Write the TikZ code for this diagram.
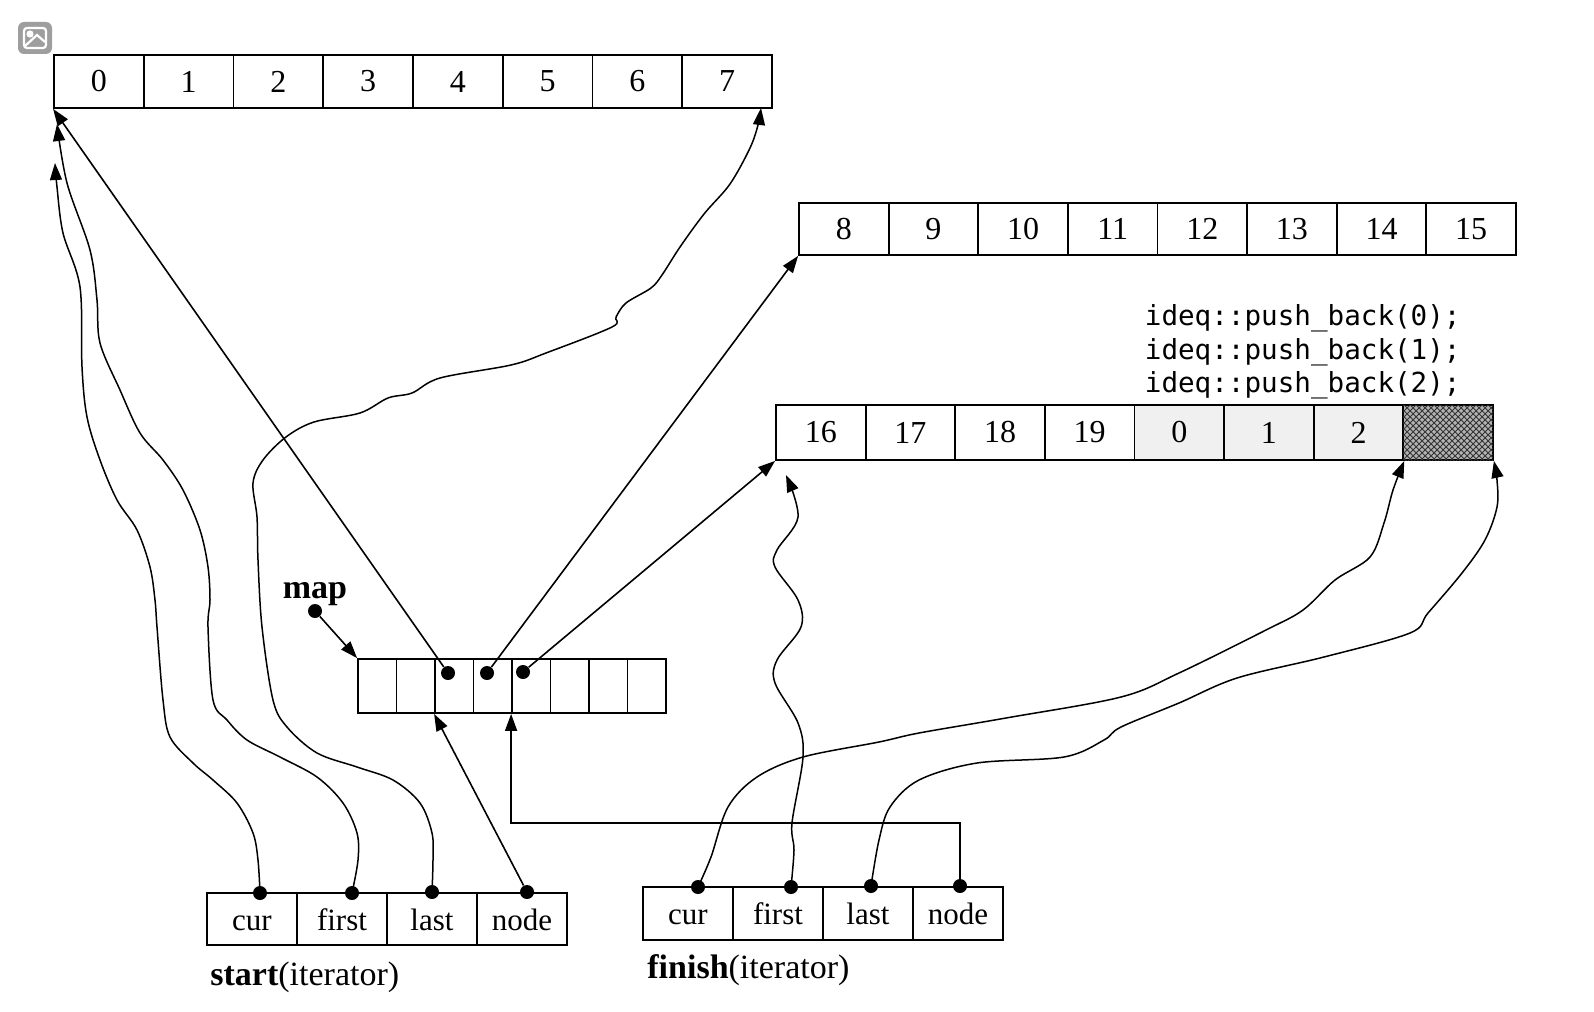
\documentclass[tikz,border=0pt]{standalone}
\usepackage{fontspec}
\setmainfont{Liberation Serif}
\newfontfamily\codefont{DejaVu Sans Mono}
\usetikzlibrary{arrows.meta,patterns,backgrounds}
\tikzset{
  cellbox/.style={draw=black, line width=0.9pt, inner sep=0pt},
  cellA/.style={cellbox, minimum width=44.875pt, minimum height=26.5pt, font=\fontsize{16}{16}\selectfont},
  cellB/.style={cellbox, minimum width=44.8125pt, minimum height=26pt, font=\fontsize{16}{16}\selectfont},
  cellC/.style={cellbox, minimum width=44.8125pt, minimum height=27.5pt, font=\fontsize{16}{16}\selectfont},
  cellM/.style={cellbox, minimum width=19.25pt, minimum height=27pt},
  itcell/.style={cellbox, minimum width=45pt, minimum height=26pt, text height=12pt, text depth=1pt, font=\fontsize{15.5}{15.5}\selectfont},
  dot/.style={circle, fill=black, inner sep=0pt, minimum size=7pt},
  conn/.style={line width=0.8pt, -{Triangle[length=8.5pt,width=6pt]}},
  wavy/.style={line width=0.75pt, -{Triangle[length=8.5pt,width=6pt]}},
  speck/.style={fill=black!6},
  hatch/.style={fill=black!30, postaction={pattern=crosshatch, pattern color=black!80}},
  lbl/.style={inner sep=0pt, font=\fontsize{17}{17}\selectfont},
  code/.style={inner sep=0pt, anchor=base east, font=\codefont\fontsize{13.8}{13.8}\selectfont},
}
\begin{document}
\begin{tikzpicture}[x=0.5pt,y=-0.5pt]
\useasboundingbox (0,0) rectangle (1594,1011);
% image icon
\fill[black!38, rounded corners=3pt] (18,22) rectangle (52,54);
\draw[white, line width=1.1pt, rounded corners=1.5pt] (24,28) rectangle (46,48);
\fill[white] (30,34) circle (1.8pt);
\draw[white, line width=1.1pt] (25,46) -- (37,35) -- (45,42);

% top buffer
\foreach \i in {0,...,7}{
  \node[cellA] (A\i) at ({54+89.75*(\i+0.5)},81.5) {\i};
}
% second buffer
\foreach \i/\t in {0/8,1/9,2/10,3/11,4/12,5/13,6/14,7/15}{
  \node[cellB] (B\i) at ({799+89.625*(\i+0.5)},229) {\t};
}
% third buffer
\foreach \i/\t in {0/16,1/17,2/18,3/19}{
  \node[cellC] (C\i) at ({776+89.625*(\i+0.5)},432.5) {\t};
}
\foreach \i/\t in {4/0,5/1,6/2}{
  \node[cellC, speck] (C\i) at ({776+89.625*(\i+0.5)},432.5) {\t};
}
\node[cellC, hatch] (C7) at ({776+89.625*7.5},432.5) {};

% code text
\node[code] (code1) at (1461,325) {ideq::push\_back(0);};
\node[code] (code2) at (1461,359) {ideq::push\_back(1);};
\node[code] (code3) at (1461,392) {ideq::push\_back(2);};

% map
\foreach \i in {0,...,7}{
  \node[cellM] (M\i) at ({358+38.5*(\i+0.5)},686) {};
}
\node[dot] (m2) at (448,673) {};
\node[dot] (m3) at (487,673) {};
\node[dot] (m4) at (523,672) {};
\node[lbl, anchor=base, font=\bfseries\fontsize{17}{17}\selectfont] (maplabel) at (315,598) {map};
\node[dot] (mapdot) at (315,611) {};

% start iterator
\foreach \i/\t in {0/cur,1/first,2/last,3/node}{
  \node[itcell] (S\i) at ({207+90*(\i+0.5)},919) {\t};
}
\node[dot] (Scur) at (260,893) {};
\node[dot] (Sfirst) at (352,893) {};
\node[dot] (Slast) at (432,892) {};
\node[dot] (Snode) at (527,892) {};
\node[lbl, anchor=base west] (startlabel) at (210,985) {\textbf{start}(iterator)};

% finish iterator
\foreach \i/\t in {0/cur,1/first,2/last,3/node}{
  \node[itcell, minimum height=26.5pt] (F\i) at ({643+90*(\i+0.5)},913.5) {\t};
}
\node[dot] (Fcur) at (698,887) {};
\node[dot] (Ffirst) at (791,887) {};
\node[dot] (Flast) at (871,886) {};
\node[dot] (Fnode) at (960,886) {};
\node[lbl, anchor=base west] (finishlabel) at (647,978) {\textbf{finish}(iterator)};

% free ends
\coordinate (curTip) at (55,163);
\coordinate (firstTip) at (57,124);
\coordinate (lastTip) at (761,108);
\coordinate (FfirstTip) at (786,475);
\coordinate (fbend) at (960,823);

\begin{scope}[on background layer]
\draw[conn] (m2) -- (A0.south west);
\draw[conn] (m3) -- (B0.south west);
\draw[conn] (m4) -- (C0.south west);
\draw[conn] (mapdot) -- (M0.north west);
\draw[conn] (Snode) -- (M2.south west);
\draw[conn] (Fnode) -- (fbend) -| (M4.south west);

\draw[wavy] plot[smooth, tension=0.55] coordinates {(Scur.center) (258,860) (253,833) (237,803) (213,780) (193,763) (170,737) (163,700) (157,627) (155,600) (150,567) (137,530) (117,500) (100,460) (87,417) (82,367) (80,287) (63,233) (57,187) (curTip)};

\draw[wavy] plot[smooth, tension=0.55] coordinates {(Sfirst.center) (358,860) (357,833) (343,803) (317,777) (280,757) (247,740) (227,720) (213,700) (208,627) (210,600) (208,567) (200,530) (183,490) (163,460) (140,433) (120,390) (100,343) (97,300) (90,250) (67,183) (firstTip)};

\draw[wavy] plot[smooth, tension=0.55] coordinates {(Slast.center) (433,860) (432,833) (420,803) (393,780) (357,767) (317,753) (287,727) (273,700) (262,627) (258,560) (257,517) (253,483) (263,460) (286,437) (314,422) (360,413) (388,398) (412,393) (440,378) (511,365) (546,353) (612,327) (616,317) (626,303) (651,288) (662,275) (680,247) (704,214) (730,184) (750,148) (758,125) (lastTip)};

\draw[wavy] plot[smooth, tension=0.55] coordinates {(Fcur.center) (711,857) (728,807) (757,777) (803,757) (879,742) (919,733) (1006,718) (1121,697) (1179,673) (1266,630) (1303,610) (1335,580) (1370,557) (1384,523) (1393,490) (C6.south east)};

\draw[wavy] plot[smooth, tension=0.55] coordinates {(Ffirst.center) (794,850) (792,823) (803,757) (798,723) (775,683) (777,660) (801,627) (798,600) (775,567) (777,550) (798,517) (FfirstTip)};

\draw[wavy] plot[smooth, tension=0.55] coordinates {(Flast.center) (879,840) (890,807) (919,780) (977,763) (1064,757) (1104,740) (1121,727) (1179,703) (1237,678) (1324,657) (1410,633) (1428,613) (1462,573) (1485,540) (1497,507) (1497,480) (C7.south east)};
\end{scope}
\end{tikzpicture}
\end{document}
